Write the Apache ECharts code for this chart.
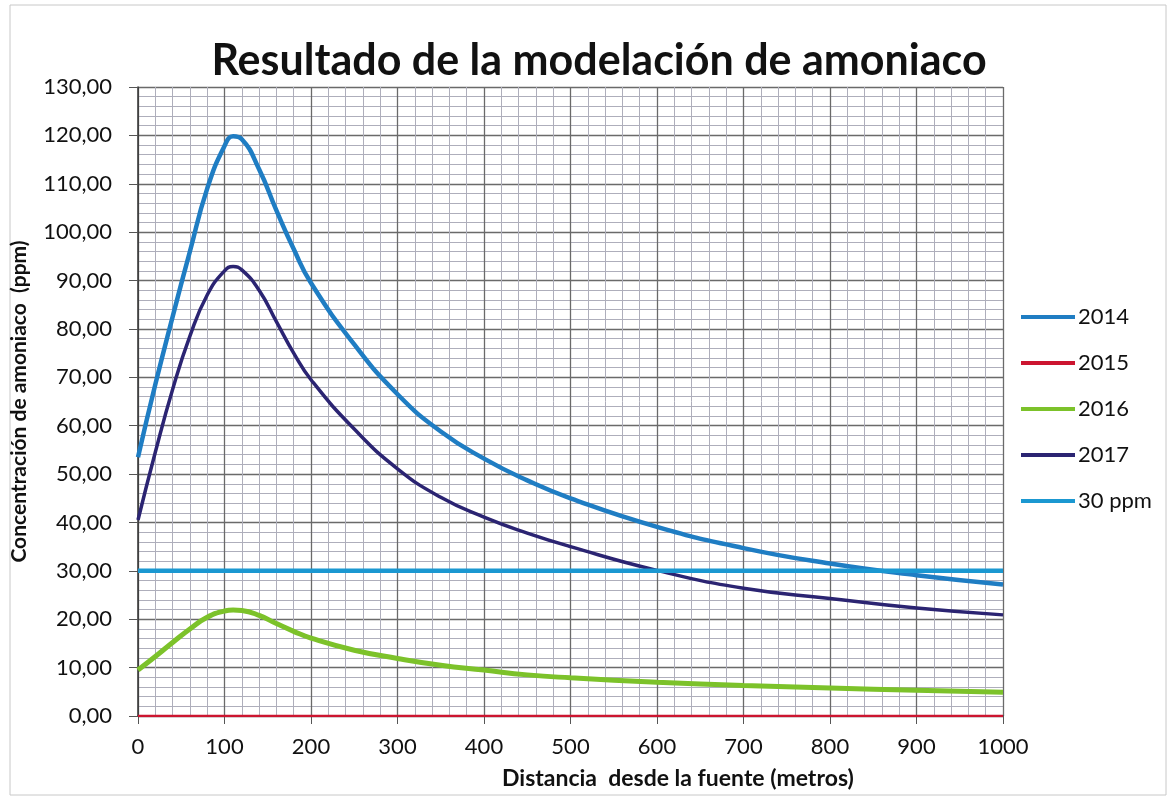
<!DOCTYPE html>
<html>
<head>
<meta charset="utf-8">
<script src="https://cdn.jsdelivr.net/npm/echarts@6/dist/echarts.min.js"></script>
<style>
  html, body { margin: 0; padding: 0; background: #fff; }
  #chart { width: 1174px; height: 802px; }
</style>
</head>
<body>
<div id="chart"></div>
<script>
// distancias (m) donde se leyeron los valores
const distancias = [0, 20, 40, 60, 80, 100, 110, 120, 140, 160, 180, 200, 250, 300, 350, 400, 450, 500, 600, 700, 800, 900, 1000];

// concentraciones (ppm) por año
const c2014 = [53.5, 68.5, 82.5, 96, 109, 117.8, 119.8, 119.2, 113, 104.5, 96.5, 89.5, 76.8, 66.5, 58.8, 53.2, 48.7, 45, 39.1, 34.7, 31.5, 29.1, 27.2];
const c2015 = [0, 0, 0, 0, 0, 0, 0, 0, 0, 0, 0, 0, 0, 0, 0, 0, 0, 0, 0, 0, 0, 0, 0];
const c2016 = [9.5, 12.3, 15.2, 18, 20.4, 21.7, 21.9, 21.8, 20.8, 19.1, 17.5, 16.1, 13.6, 11.9, 10.5, 9.5, 8.5, 7.9, 7.0, 6.3, 5.8, 5.3, 4.9];
const c2017 = [40.5, 54.5, 67.5, 78.5, 87, 92, 92.9, 92.2, 88, 81.5, 75, 69.5, 59.3, 51.1, 45.2, 41.1, 37.8, 35, 30.1, 26.4, 24.3, 22.3, 20.9];
const limite = [30, 30];
const limiteX = [0, 1000];

const nombres = ['2014', '2015', '2016', '2017', '30 ppm'];

const pares = (xs, ys) => xs.map((x, i) => [x, ys[i]]);

const chart = echarts.init(document.getElementById('chart'));

const fuente = 'Lato, "Open Sans", sans-serif';

const option = {
    backgroundColor: '#fff',
    animation: false,
    textStyle: { fontFamily: fuente },
    title: [
        {
            text: 'Resultado de la modelación de amoniaco',
            left: 594,
            textAlign: 'center',
            top: 35,
            textStyle: { fontSize: 43, fontWeight: 'bold', color: '#111', fontFamily: fuente }
        },
        {
            text: 'Distancia  desde la fuente (metros)',
            left: 497,
            top: 762,
            textStyle: { fontSize: 23, fontWeight: 'bold', color: '#111', fontFamily: fuente }
        }
    ],
    graphic: [{
        type: 'rect',
        shape: { x: 10, y: 5, width: 1156, height: 790 },
        style: { fill: 'none', stroke: '#c8c8c8', lineWidth: 1 },
        silent: true
    }],
    legend: {
        orient: 'vertical',
        left: 1021,
        top: 306,
        padding: 0,
        icon: 'rect',
        itemWidth: 54,
        itemHeight: 4,
        itemGap: 24,
        data: nombres,
        textStyle: { fontSize: 22, color: '#111', fontFamily: fuente, padding: [0, 0, 0, -2] }
    },
    grid: { left: 138, top: 87, width: 865, height: 629, containLabel: false },
    xAxis: {
        type: 'value',
        min: 0,
        max: 1000,
        interval: 100,
        axisLine: { show: true, lineStyle: { color: '#333', width: 1.5 } },
        axisTick: { show: true, length: 8, lineStyle: { color: '#555' } },
        axisLabel: { fontSize: 22, color: '#111', margin: 20, formatter: v => String(v) },
        splitLine: { show: true, lineStyle: { color: '#6a6a6a', width: 1.3 } },
        minorTick: { show: false, splitNumber: 5 },
        minorSplitLine: { show: true, lineStyle: { color: '#aeaebb', width: 1 } }
    },
    yAxis: {
        type: 'value',
        min: 0,
        max: 130,
        interval: 10,
        name: 'Concentración de amoniaco  (ppm)',
        nameLocation: 'middle',
        nameGap: 108,
        nameTextStyle: { fontSize: 21, fontWeight: 'bold', color: '#111' },
        axisLine: { show: true, lineStyle: { color: '#333', width: 1.5 } },
        axisTick: { show: true, length: 9, lineStyle: { color: '#555' } },
        axisLabel: {
            fontSize: 22,
            color: '#111',
            margin: 26,
            formatter: v => v.toFixed(2).replace('.', ',')
        },
        splitLine: { show: true, lineStyle: { color: '#6a6a6a', width: 1.3 } },
        minorTick: { show: false, splitNumber: 5 },
        minorSplitLine: { show: true, lineStyle: { color: '#aeaebb', width: 1 } }
    },
    series: [
        {
            name: '2014', type: 'line', smooth: 0.5, symbol: 'none',
            color: '#1f7dc3',
            lineStyle: { width: 4.5, color: '#1f7dc3' },
            data: pares(distancias, c2014)
        },
        {
            name: '2015', type: 'line', smooth: 0.5, symbol: 'none',
            color: '#cc1530',
            lineStyle: { width: 2.5, color: '#cc1530' },
            z: 5,
            data: pares(distancias, c2015)
        },
        {
            name: '2016', type: 'line', smooth: 0.5, symbol: 'none',
            color: '#7cc22a',
            lineStyle: { width: 5, color: '#7cc22a' },
            data: pares(distancias, c2016)
        },
        {
            name: '2017', type: 'line', smooth: 0.5, symbol: 'none',
            color: '#2b2472',
            lineStyle: { width: 3.5, color: '#2b2472' },
            data: pares(distancias, c2017)
        },
        {
            name: '30 ppm', type: 'line', symbol: 'none',
            color: '#1b98d1',
            lineStyle: { width: 4.5, color: '#1b98d1' },
            data: pares(limiteX, limite)
        }
    ]
};

chart.setOption(option);
</script>
</body>
</html>
